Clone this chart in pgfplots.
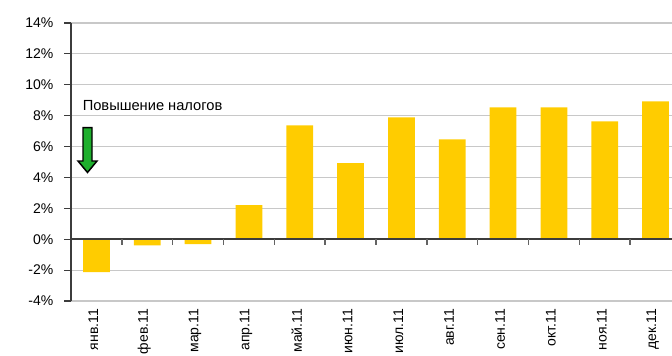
\documentclass[border=0pt]{standalone}
\usepackage{pgfplots}
\pgfplotsset{compat=1.18}
\usepackage{fontspec}
\setmainfont{Liberation Sans}
\newlength{\px}\setlength{\px}{0.75pt}
\definecolor{baryellow}{RGB}{255,204,0}
\definecolor{gridgray}{RGB}{200,200,200}
\definecolor{axisgray}{RGB}{60,60,60}
\definecolor{arrowgreen}{RGB}{30,175,45}
\begin{document}
\begin{tikzpicture}[font=\fontsize{10.5}{12}\selectfont]
\useasboundingbox (0,0) rectangle (672\px,355\px);
\clip (0,0) rectangle (672\px,355\px);
\begin{axis}[
  at={(71\px,54\px)}, anchor=south west,
  scale only axis, width=610\px, height=278\px,
  xmin=-0.5, xmax=11.5, ymin=-4, ymax=14,
  axis y line*=left, axis x line*=bottom,
  x axis line style={draw=none},
  y axis line style={draw=axisgray, line width=0.9pt},
  xtick={0,...,11},
  xticklabels={янв.11,фев.11,мар.11,апр.11,май.11,июн.11,июл.11,авг.11,сен.11,окт.11,ноя.11,дек.11},
  xtick style={draw=none},
  xticklabel style={rotate=90, anchor=east, inner sep=0.5pt, yshift=3\px},
  ytick={-4,-2,...,14},
  yticklabel={\pgfmathprintnumber{\tick}\%},
  /pgf/number format/assume math mode=true,
  ytick pos=left,
  tick align=outside,
  major tick length=7\px,
  y tick style={draw=axisgray, line width=0.9pt},
  yticklabel style={xshift=-4.5pt},
  ymajorgrids,
  major grid style={draw=gridgray, line width=0.8pt},
  tick label style={font=\fontsize{10.5}{12}\selectfont},
  clip=false,
]
\addplot[ybar, bar width=26.7\px, bar shift=0pt, fill=baryellow, draw=none]
  coordinates {(0,-2.13) (1,-0.4) (2,-0.32) (3,2.2) (4,7.37) (5,4.92) (6,7.89) (7,6.47) (8,8.54) (9,8.54) (10,7.63) (11,8.93)};
\draw[axisgray, line width=1.1pt] (axis cs:-0.5,0) -- (axis cs:11.5,0);
\pgfplotsinvokeforeach{0.5,1.5,...,11.5}{
  \draw[axisgray!80, line width=1.1pt] (axis cs:#1,0) -- ([yshift=-6\px]axis cs:#1,0);
}
\end{axis}
\node[anchor=base west, inner sep=0pt, font=\fontsize{11}{12}\selectfont] at (82.5\px,244.3\px) {Повышение налогов};
\draw[black, line width=1.1pt, fill=arrowgreen, line join=miter]
  (83\px,227.3\px) -- (92\px,227.3\px) -- (92\px,194\px) -- (97\px,194\px)
  -- (87.5\px,182.5\px) -- (78\px,194\px) -- (83\px,194\px) -- cycle;
\end{tikzpicture}
\end{document}
